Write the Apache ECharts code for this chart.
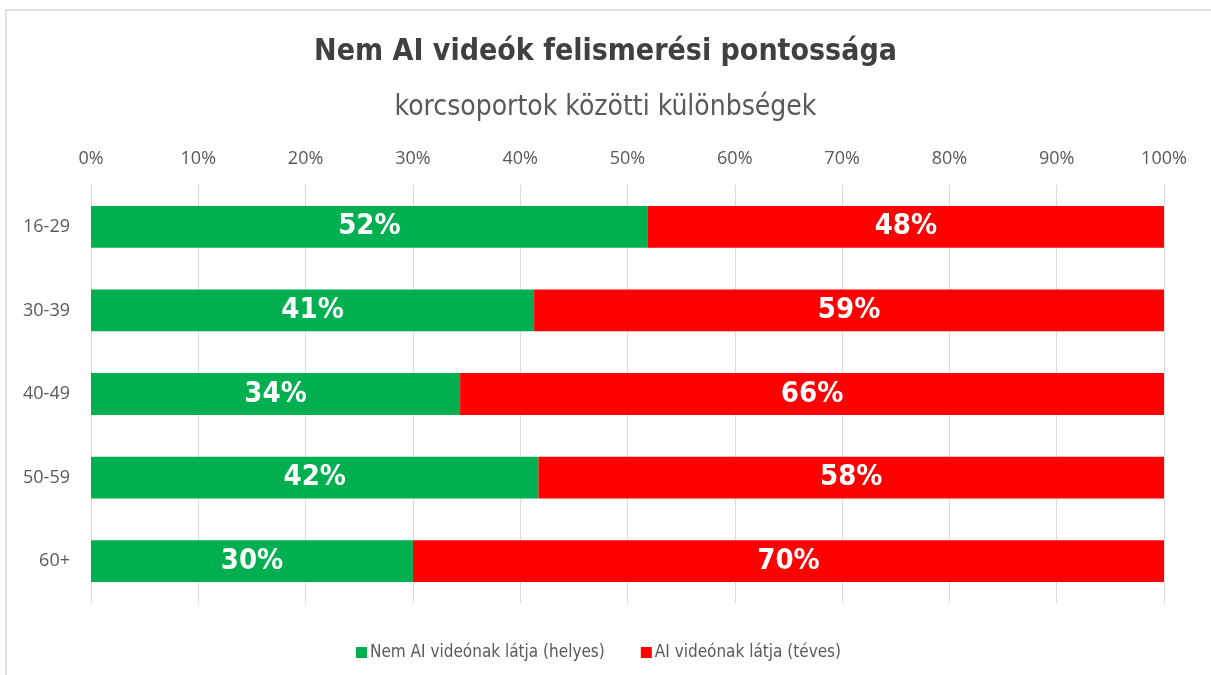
<!DOCTYPE html>
<html>
<head>
<meta charset="utf-8">
<script src="https://cdn.jsdelivr.net/npm/echarts@6/dist/echarts.min.js"></script>
<style>
  html, body { margin: 0; padding: 0; background: #fff; }
  #chart { width: 1211px; height: 675px; }
</style>
</head>
<body>
<div id="chart"></div>
<script>
// korcsoportok (felülről lefelé)
const categories = ['16-29', '30-39', '40-49', '50-59', '60+'];
// arányok százalékban
const correctValues = [51.9, 41.3, 34.4, 41.7, 30.0];
const wrongValues = [48.1, 58.7, 65.6, 58.3, 70.0];
const seriesNames = ['Nem AI videónak látja (helyes)', 'AI videónak látja (téves)'];

const condensed = "'Liberation Sans Narrow', 'DejaVu Sans Condensed', sans-serif";

const myChart = echarts.init(document.getElementById('chart'));

const barLabel = {
  show: true,
  position: 'inside',
  color: '#fff',
  fontFamily: condensed,
  fontWeight: 'bold',
  fontSize: 29,
  formatter: p => Math.round(p.value) + '%'
};

const option = {
  backgroundColor: '#fff',
  animation: false,
  graphic: [{
    type: 'rect',
    shape: { x: 6, y: 10, width: 1240, height: 700 },
    style: { fill: 'none', stroke: '#d9d9d9', lineWidth: 1.5 },
    silent: true
  }],
  title: [
    {
      text: 'Nem AI videók felismerési pontossága',
      left: 'center',
      top: 32,
      textStyle: { fontFamily: condensed, fontWeight: 'bold', fontSize: 30, color: '#404040' }
    },
    {
      text: 'korcsoportok közötti különbségek',
      left: 'center',
      top: 89,
      textStyle: { fontFamily: condensed, fontWeight: 'normal', fontSize: 28, color: '#595959' }
    }
  ],
  legend: {
    left: 351,
    top: 639,
    itemWidth: 11,
    itemHeight: 11,
    itemGap: 36,
    icon: 'rect',
    textStyle: { fontFamily: condensed, fontSize: 17, color: '#595959', padding: [0, 0, 0, -2] },
    data: seriesNames
  },
  grid: {
    left: 91,
    right: 47,
    top: 185,
    bottom: 72
  },
  xAxis: {
    type: 'value',
    position: 'top',
    min: 0,
    max: 100,
    interval: 10,
    axisLabel: {
      formatter: '{value}%',
      fontFamily: "'Open Sans', sans-serif",
      fontSize: 18,
      color: '#595959',
      margin: 17
    },
    axisLine: { show: false },
    axisTick: { show: false },
    splitLine: { lineStyle: { color: '#d9d9d9', width: 1 } }
  },
  yAxis: {
    type: 'category',
    inverse: true,
    data: categories,
    axisLabel: {
      fontFamily: "'Open Sans', sans-serif",
      fontSize: 18,
      color: '#595959',
      margin: 21
    },
    axisLine: { lineStyle: { color: '#d9d9d9', width: 1 } },
    axisTick: { length: 5, lineStyle: { color: '#d9d9d9' } }
  },
  series: [
    {
      name: seriesNames[0],
      type: 'bar',
      stack: 'total',
      barWidth: '50%',
      data: correctValues,
      itemStyle: { color: '#00B050' },
      label: barLabel
    },
    {
      name: seriesNames[1],
      type: 'bar',
      stack: 'total',
      barWidth: '50%',
      data: wrongValues,
      itemStyle: { color: '#FF0000' },
      label: barLabel
    }
  ]
};

myChart.setOption(option);
</script>
</body>
</html>
